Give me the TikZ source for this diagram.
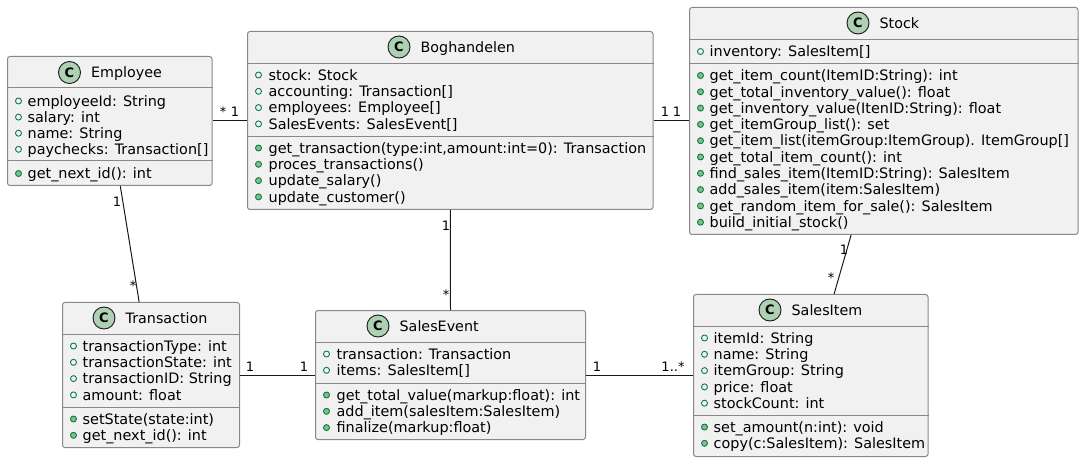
\documentclass[tikz,border=0pt]{standalone}
\usepackage{fontspec}
\setmainfont{DejaVu Sans}
\usepackage{xcolor}
\usetikzlibrary{positioning}
\definecolor{boxfill}{HTML}{F1F1F1}
\definecolor{boxline}{HTML}{888888}
\definecolor{linkline}{HTML}{181818}
\definecolor{iconfill}{HTML}{ADD1B2}
\definecolor{markline}{HTML}{038048}
\definecolor{markfill}{HTML}{84BE84}

\begin{document}
\begin{tikzpicture}[
  x=1pt, y=-1pt,
  classbox/.style={draw=boxline, fill=boxfill, rectangle, line width=1pt, rounded corners=2.5pt, inner sep=0pt},
  divider/.style={draw=boxline, line width=1pt},
  classicon/.style={draw=linkline, fill=iconfill, circle, line width=0.9pt, minimum size=22pt, inner sep=0pt, font=\fontsize{13}{13}\selectfont\bfseries},
  classtitle/.style={inner sep=0pt, text height=13pt, text depth=2.5pt, font=\fontsize{14.3}{14.3}\selectfont},
  member/.style={inner sep=0pt, text height=13pt, text depth=2.5pt, font=\fontsize{14.4}{14.4}\selectfont},
  attrmark/.style={draw=markline, fill=none, circle, line width=0.9pt, minimum size=6pt, inner sep=0pt},
  methmark/.style={draw=markline, fill=markfill, circle, line width=0.9pt, minimum size=6pt, inner sep=0pt},
  link/.style={draw=linkline, line width=1pt},
  mult/.style={inner sep=0pt, font=\fontsize{13}{13}\selectfont}
]
\useasboundingbox (0,0) rectangle (1084,462);

% Employee
\node[classbox, minimum width=204.5pt, minimum height=129pt] (employee) at (109.75,121) {};
\node[classicon] (employeeicon) at (69.5,72.5) {C};
\node[classtitle, right=10pt of employeeicon] (employeetitle) {Employee};
\draw[divider] (employee.west |- 0,88) -- (employee.east |- 0,88);
\draw[divider] (employee.west |- 0,161) -- (employee.east |- 0,161);
\foreach \txt [count=\i] in {{employeeId: String},{salary: int},{name: String},{paychecks: Transaction[]}} {
  \node[attrmark] (employeeA\i) at (18.5,{101+16.1*(\i-1)}) {};
  \node[member, right=5.5pt of employeeA\i] (employeeAt\i) {\txt};
}
\node[methmark] (employeeM1) at (18.5,173.5) {};
\node[member, right=5.5pt of employeeM1] (employeeMt1) {get\_next\_id(): int};

% Boghandelen
\node[classbox, minimum width=405.5pt, minimum height=178pt] (shop) at (450.25,120.5) {};
\node[classicon] (shopicon) at (399,47) {C};
\node[classtitle, right=10pt of shopicon] (shoptitle) {Boghandelen};
\draw[divider] (shop.west |- 0,63.5) -- (shop.east |- 0,63.5);
\draw[divider] (shop.west |- 0,136.5) -- (shop.east |- 0,136.5);
\foreach \txt [count=\i] in {{stock: Stock},{accounting: Transaction[]},{employees: Employee[]},{SalesEvents: SalesEvent[]}} {
  \node[attrmark] (shopA\i) at (258.5,{75+16.3*(\i-1)}) {};
  \node[member, right=6.5pt of shopA\i] (shopAt\i) {\txt};
}
\foreach \txt [count=\i] in {{get\_transaction(type:int,amount:int=0): Transaction},{proces\_transactions()},{update\_salary()},{update\_customer()}} {
  \node[methmark] (shopM\i) at (258.5,{148+16.3*(\i-1)}) {};
  \node[member, right=6.5pt of shopM\i] (shopMt\i) {\txt};
}

% Stock
\node[classbox, minimum width=388.5pt, minimum height=227pt] (stock) at (883.75,121) {};
\node[classicon] (stockicon) at (858,23) {C};
\node[classtitle, right=10pt of stockicon] (stocktitle) {Stock};
\draw[divider] (stock.west |- 0,39.5) -- (stock.east |- 0,39.5);
\draw[divider] (stock.west |- 0,63.5) -- (stock.east |- 0,63.5);
\node[attrmark] (stockA1) at (700.5,51.5) {};
\node[member, right=5.5pt of stockA1] (stockAt1) {inventory: SalesItem[]};
\foreach \txt [count=\i] in {{get\_item\_count(ItemID:String): int},{get\_total\_inventory\_value(): float},{get\_inventory\_value(ItenID:String): float},{get\_itemGroup\_list(): set},{get\_item\_list(itemGroup:ItemGroup). ItemGroup[]},{get\_total\_item\_count(): int},{find\_sales\_item(ItemID:String): SalesItem},{add\_sales\_item(item:SalesItem)},{get\_random\_item\_for\_sale(): SalesItem},{build\_initial\_stock()}} {
  \node[methmark] (stockM\i) at (700.5,{75.5+16.3*(\i-1)}) {};
  \node[member, right=5.5pt of stockM\i] (stockMt\i) {\txt};
}

% Transaction
\node[classbox, minimum width=177pt, minimum height=145pt] (transaction) at (151,375) {};
\node[classicon] (transactionicon) at (104,318) {C};
\node[classtitle, right=10pt of transactionicon] (transactiontitle) {Transaction};
\draw[divider] (transaction.west |- 0,334.5) -- (transaction.east |- 0,334.5);
\draw[divider] (transaction.west |- 0,407) -- (transaction.east |- 0,407);
\foreach \txt [count=\i] in {{transactionType: int},{transactionState: int},{transactionID: String},{amount: float}} {
  \node[attrmark] (transactionA\i) at (73.5,{346+16.3*(\i-1)}) {};
  \node[member, right=5.5pt of transactionA\i] (transactionAt\i) {\txt};
}
\foreach \txt [count=\i] in {{setState(state:int)},{get\_next\_id(): int}} {
  \node[methmark] (transactionM\i) at (73.5,{419+16.3*(\i-1)}) {};
  \node[member, right=5.5pt of transactionM\i] (transactionMt\i) {\txt};
}

% SalesEvent
\node[classbox, minimum width=270pt, minimum height=129pt] (salesevent) at (450.5,375) {};
\node[classicon] (salesevent icon) at (378,326) {C};
\node[classtitle, right=10pt of salesevent icon] (saleseventtitle) {SalesEvent};
\draw[divider] (salesevent.west |- 0,342.5) -- (salesevent.east |- 0,342.5);
\draw[divider] (salesevent.west |- 0,383.5) -- (salesevent.east |- 0,383.5);
\foreach \txt [count=\i] in {{transaction: Transaction},{items: SalesItem[]}} {
  \node[attrmark] (saleseventA\i) at (326.5,{354+16.3*(\i-1)}) {};
  \node[member, right=6.5pt of saleseventA\i] (saleseventAt\i) {\txt};
}
\foreach \txt [count=\i] in {{get\_total\_value(markup:float): int},{add\_item(salesItem:SalesItem)},{finalize(markup:float)}} {
  \node[methmark] (saleseventM\i) at (326.5,{395+16.3*(\i-1)}) {};
  \node[member, right=6.5pt of saleseventM\i] (saleseventMt\i) {\txt};
}

% SalesItem
\node[classbox, minimum width=234.5pt, minimum height=162pt] (salesitem) at (810.75,375.5) {};
\node[classicon] (salesitemicon) at (770,310) {C};
\node[classtitle, right=10pt of salesitemicon] (salesitemtitle) {SalesItem};
\draw[divider] (salesitem.west |- 0,326.5) -- (salesitem.east |- 0,326.5);
\draw[divider] (salesitem.west |- 0,415) -- (salesitem.east |- 0,415);
\foreach \txt [count=\i] in {{itemId: String},{name: String},{itemGroup: String},{price: float},{stockCount: int}} {
  \node[attrmark] (salesitemA\i) at (704.5,{338+16.3*(\i-1)}) {};
  \node[member, right=5.5pt of salesitemA\i] (salesitemAt\i) {\txt};
}
\foreach \txt [count=\i] in {{set\_amount(n:int): void},{copy(c:SalesItem): SalesItem}} {
  \node[methmark] (salesitemM\i) at (704.5,{427+16.3*(\i-1)}) {};
  \node[member, right=5.5pt of salesitemM\i] (salesitemMt\i) {\txt};
}

% Links
\draw[link] (employee.east |- shop.west) -- (shop.west);
\draw[link] (shop.east) -- (stock.west |- shop.east);
\draw[link] (employee) -- (transaction);
\draw[link] (shop.south) -- (salesevent.north);
\draw[link] (stock) -- (salesitem);
\draw[link] (transaction.east |- salesitem.west) -- (salesevent.west |- salesitem.west);
\draw[link] (salesevent.east |- salesitem.west) -- (salesitem.west);

% Multiplicities
\node[mult] (m1) at (223,112) {*};
\node[mult] (m2) at (235,112) {1};
\node[mult] (m3) at (665,112) {1};
\node[mult] (m4) at (677,112) {1};
\node[mult] (m5) at (117,202) {1};
\node[mult] (m6) at (133,286) {*};
\node[mult] (m7) at (446,226) {1};
\node[mult] (m8) at (446,295) {*};
\node[mult] (m9) at (844,250) {1};
\node[mult] (m10) at (831,278) {*};
\node[mult] (m11) at (250,367) {1};
\node[mult] (m12) at (304,367) {1};
\node[mult] (m13) at (597,367) {1};
\node[mult] (m14) at (673,367) {1..*};

\end{tikzpicture}
\end{document}
